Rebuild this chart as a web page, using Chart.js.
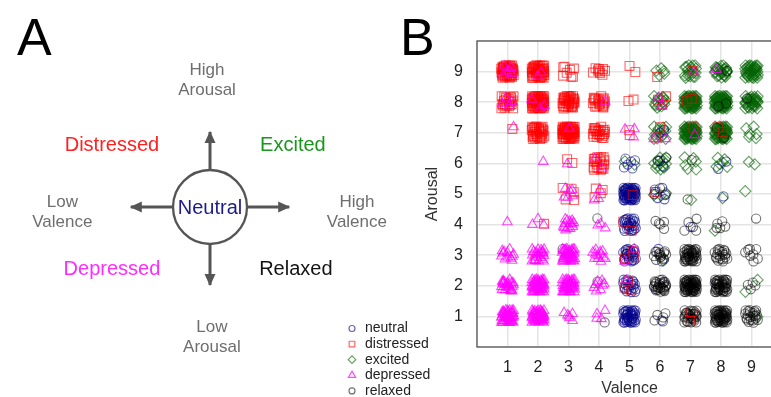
<!DOCTYPE html>
<html><head><meta charset="utf-8">
<script src="https://cdn.jsdelivr.net/npm/chart.js@4.4.1/dist/chart.umd.min.js"></script>
<style>
html,body{margin:0;padding:0;background:#fff;overflow:hidden;width:771px;height:397px;}
#a{position:absolute;left:0;top:0;}
#b{position:absolute;left:330px;top:0;}
</style></head><body>
<canvas id="a" width="771" height="397"></canvas>
<canvas id="b" width="470" height="397"></canvas>
<script>
// ---------- Panel B data: [valence, arousal, count of ratings] ----------
const seriesNames = ["neutral", "distressed", "excited", "depressed", "relaxed"];
const neutralCells = [
 [5,6,6],[6,6,2],[8,6,2],[6,7,2],
 [5,5,64],[6,5,6],[8,5,1],
 [5,4,28],[7,4,1],
 [5,3,28],[6,3,2],
 [5,2,22],[6,2,2],[8,2,1],
 [5,1,45],[6,1,1]
];
const distressedCells = [
 [1,9,50],[2,9,50],[3,9,8],[4,9,9],[5,9,2],[6,9,1],[7,9,1],
 [1,8,22],[2,8,60],[3,8,35],[4,8,20],[5,8,2],[6,8,3],[7,8,2],
 [1,7,1],[2,7,35],[3,7,60],[4,7,22],[5,7,2],[6,7,2],[7,7,1],[8,7,2],
 [3,6,2],[4,6,20],
 [3,5,5],[4,5,4],[5,5,1],[6,5,1],
 [2,4,1],[5,4,2],
 [2,3,1],[5,3,3],
 [5,2,3],
 [7,1,2]
];
const excitedCells = [
 [6,9,5],[7,9,18],[8,9,25],[9,9,40],
 [6,8,14],[7,8,64],[8,8,64],[9,8,35],
 [6,7,14],[7,7,64],[8,7,55],[9,7,6],
 [5,6,2],[6,6,12],[7,6,6],[8,6,6],[9,6,2],
 [5,5,2],[6,5,3],[7,5,1],[8,5,1],[9,5,1],
 [8,4,1],[6,3,1],[9,2,2],[9,1,1]
];
const depressedCells = [
 [1,9,6],[2,9,2],[7,9,1],[8,9,1],
 [1,8,4],[2,8,3],[4,8,1],[6,8,2],
 [1,7,1],[3,7,1],[5,7,3],[6,7,2],[7,7,1],
 [2,6,1],[3,6,1],[4,6,2],
 [3,5,6],[4,5,3],
 [1,4,1],[2,4,3],[3,4,14],[4,4,3],
 [1,3,12],[2,3,22],[3,3,40],[4,3,12],[5,3,2],
 [1,2,25],[2,2,50],[3,2,40],[4,2,8],[5,2,1],
 [1,1,45],[2,1,50],[3,1,6],[4,1,4]
];
const relaxedCells = [
 [8,9,1],
 [3,8,1],[8,8,2],[9,8,1],
 [8,7,2],
 [6,6,2],[7,6,1],
 [6,5,3],[7,5,1],
 [4,4,1],[6,4,5],[7,4,5],[8,4,5],[9,4,1],
 [3,3,1],[5,3,1],[6,3,14],[7,3,45],[8,3,20],[9,3,8],
 [3,2,1],[4,2,1],[6,2,28],[7,2,64],[8,2,45],[9,2,4],
 [4,1,1],[6,1,5],[7,1,30],[8,1,55],[9,1,22]
];
const valenceTicks = [1,2,3,4,5,6,7,8,9];
const arousalTicks = [1,2,3,4,5,6,7,8,9];
// fixed jitter table (rating jitter offsets)
const jitterDX = [0.02,-0.22,0.20,0.24,-0.19,0.00,0.29,-0.28,0.03,0.13,-0.11,0.12,-0.10,0.30,-0.30,0.28,
 -0.29,0.15,-0.14,0.26,-0.25,0.08,-0.07,0.19,-0.18,0.06,-0.04,0.21,-0.22,0.18,-0.16,0.09,
 -0.06,0.31,-0.31,0.10,-0.08,0.23,-0.24,0.04,-0.02,0.16,-0.13,0.27,-0.27,0.14,-0.20,0.07,
 -0.09,0.22,-0.26,0.11,-0.12,0.25,-0.23,0.01,-0.01,0.17,-0.17,0.30,-0.30,0.05,-0.05,0.20];
const jitterDY = [0.01,0.18,-0.21,0.19,-0.23,0.28,-0.02,0.00,-0.29,0.11,-0.10,-0.12,0.12,0.29,-0.30,-0.30,
 0.30,0.26,-0.27,0.09,-0.09,-0.20,0.21,0.02,0.05,0.16,-0.17,-0.10,-0.16,0.20,0.27,0.04,
 -0.03,-0.17,0.14,-0.31,0.31,0.30,-0.31,0.22,-0.23,-0.05,0.07,0.15,-0.20,-0.25,0.24,0.09,
 -0.06,-0.26,0.22,0.30,-0.20,-0.06,0.10,-0.11,0.13,-0.16,0.17,0.04,-0.05,-0.07,0.06,0.13];
const jitterAmount = 0.66;

// ---------- Panel A diagram data ----------
const circleCenter = [0, 0];
const circleRadius = 1.0;
const arrowStarts = [[0,1.0],[0,-1.0],[-1.0,0],[1.0,0]];
const arrowEnds   = [[0,2.03],[0,-2.11],[-2.14,0],[2.14,0]];
const diagramTexts  = [["High","Arousal"],["Low","Arousal"],["Low","Valence"],["High","Valence"],
                       ["Distressed"],["Excited"],["Depressed"],["Relaxed"],["Neutral"]];
const diagramX = [-0.08, 0.05, -3.99, 3.97, -2.65, 2.24, -2.65, 2.32, 0];
const diagramY = [3.42, -3.52, -0.15, -0.15, 1.65, 1.65, -1.68, -1.68, -0.05];

Chart.defaults.font.family = "'Liberation Sans', Arial, sans-serif";

// ---------- Panel A ----------
const textStyles = [
  {c:'#6e6e6e', s:17},{c:'#6e6e6e', s:17},{c:'#6e6e6e', s:17},{c:'#6e6e6e', s:17},
  {c:'#ff2020', s:20},{c:'#1a961a', s:20},{c:'#ff2cff', s:20},{c:'#141414', s:20},{c:'#1c1c8e', s:20}
];
const diagramPlugin = {
  id: 'diagram',
  afterDatasetsDraw(chart) {
    const {ctx, scales:{x, y}} = chart;
    ctx.save();
    ctx.fillStyle = '#555';
    arrowEnds.forEach((e, i) => {
      const s = arrowStarts[i];
      const ex = x.getPixelForValue(e[0]), ey = y.getPixelForValue(e[1]);
      const sx = x.getPixelForValue(s[0]), sy = y.getPixelForValue(s[1]);
      const ang = Math.atan2(ey - sy, ex - sx);
      const L = 11, W = 5.5;
      ctx.beginPath();
      ctx.moveTo(ex + Math.cos(ang) * 1, ey + Math.sin(ang) * 1);
      ctx.lineTo(ex - Math.cos(ang) * L - Math.sin(ang) * W, ey - Math.sin(ang) * L + Math.cos(ang) * W);
      ctx.lineTo(ex - Math.cos(ang) * L + Math.sin(ang) * W, ey - Math.sin(ang) * L - Math.cos(ang) * W);
      ctx.closePath();
      ctx.fill();
    });
    ctx.textAlign = 'center';
    ctx.textBaseline = 'middle';
    diagramTexts.forEach((lines, i) => {
      const st = textStyles[i];
      ctx.font = st.s + "px 'Liberation Sans', Arial, sans-serif";
      ctx.fillStyle = st.c;
      const cx = x.getPixelForValue(diagramX[i]);
      const cy = y.getPixelForValue(diagramY[i]);
      const lh = 19.5;
      lines.forEach((t, k) => ctx.fillText(t, cx, cy + (k - (lines.length - 1) / 2) * lh));
    });
    ctx.textAlign = 'left';
    ctx.textBaseline = 'alphabetic';
    ctx.fillStyle = '#000';
    ctx.font = "52px 'Liberation Sans', Arial, sans-serif";
    ctx.fillText('A', 17, 55);
    ctx.restore();
  }
};

new Chart(document.getElementById('a'), {
  type: 'scatter',
  data: {
    datasets: [
      {
        data: [{x: circleCenter[0], y: circleCenter[1]}],
        pointRadius: (c) => c.chart.scales.x.getPixelForValue(circleRadius) - c.chart.scales.x.getPixelForValue(0),
        pointBorderColor: '#555', pointBorderWidth: 2.3, pointBackgroundColor: '#fff',
        borderColor: '#555', backgroundColor: '#fff'
      },
      ...arrowStarts.map((s, i) => ({
        type: 'line',
        data: [{x: s[0], y: s[1]}, {x: arrowEnds[i][0], y: arrowEnds[i][1]}],
        borderColor: '#555', borderWidth: 3, pointRadius: 0, fill: false, tension: 0
      }))
    ]
  },
  options: {
    responsive: false, animation: false, devicePixelRatio: 1, events: [],
    layout: {padding: 0},
    plugins: {legend: {display: false}, tooltip: {enabled: false}},
    scales: {
      x: {type: 'linear', display: false, min: -5.676, max: 15.162},
      y: {type: 'linear', display: false, min: -5.135, max: 5.595}
    }
  },
  plugins: [diagramPlugin]
});

// ---------- Panel B ----------
const seriesColors = ['rgba(0,0,139,0.6)', 'rgba(255,0,0,0.6)', 'rgba(0,100,0,0.6)', 'rgba(255,0,255,0.7)', 'rgba(0,0,0,0.55)'];
const seriesStyles = ['circle', 'rect', 'rectRot', 'triangle', 'circle'];
const seriesRadius = [4.6, 6.3, 5.6, 5.6, 4.6];
const seriesDrawOrder = [3, 1, 4, 0, 2]; // lower = drawn on top
const seriesCells = [neutralCells, distressedCells, excitedCells, depressedCells, relaxedCells];

function cellsToPoints(cells, si) {
  const pts = [];
  const N = jitterDX.length;
  cells.forEach(([v, a, n]) => {
    const start = (v * 13 + a * 7 + si * 5) % N;
    for (let i = 0; i < n; i++) {
      const k = (start + i) % N;
      pts.push({x: v + jitterDX[k] * jitterAmount, y: a + jitterDY[k] * jitterAmount});
    }
  });
  return pts;
}

const framePlugin = {
  id: 'frameLegend',
  beforeDatasetsDraw(chart) {
    const {ctx, chartArea: a} = chart;
    ctx.save();
    ctx.strokeStyle = '#555';
    ctx.lineWidth = 1.3;
    ctx.strokeRect(a.left, a.top, a.right - a.left, a.bottom - a.top);
    ctx.restore();
  },
  afterDraw(chart) {
    const {ctx} = chart;
    ctx.save();
    const legendRadius = [3, 4, 3.8, 4.2, 3];
    seriesNames.forEach((name, i) => {
      const yy = 328.5 + i * 15.6;
      ctx.strokeStyle = seriesColors[i];
      ctx.fillStyle = 'rgba(0,0,0,0)';
      ctx.lineWidth = 1.2;
      Chart.helpers.drawPoint(ctx, {pointStyle: seriesStyles[i], radius: legendRadius[i], rotation: 0, borderWidth: 1.2}, 22, yy);
      ctx.fillStyle = '#222';
      ctx.font = "14px 'Liberation Sans', Arial, sans-serif";
      ctx.textAlign = 'left';
      ctx.textBaseline = 'middle';
      ctx.fillText(name, 35, yy);
    });
    ctx.fillStyle = '#000';
    ctx.font = "52px 'Liberation Sans', Arial, sans-serif";
    ctx.textBaseline = 'alphabetic';
    ctx.fillText('B', 70, 55);
    ctx.restore();
  }
};

new Chart(document.getElementById('b'), {
  type: 'scatter',
  data: {
    datasets: seriesNames.map((name, i) => ({
      label: name,
      order: seriesDrawOrder[i],
      data: cellsToPoints(seriesCells[i], i),
      pointStyle: seriesStyles[i],
      pointRadius: seriesRadius[i],
      pointBorderWidth: 1.1,
      pointBorderColor: seriesColors[i],
      pointBackgroundColor: 'rgba(0,0,0,0)',
      borderColor: seriesColors[i],
      backgroundColor: 'rgba(0,0,0,0)'
    }))
  },
  options: {
    responsive: false, animation: false, devicePixelRatio: 1, events: [],
    layout: {padding: {left: 0, right: 18, top: 41, bottom: 0}},
    plugins: {legend: {display: false}, tooltip: {enabled: false}},
    scales: {
      x: {
        type: 'linear', min: 0, max: 10,
        afterFit(s) { s.height = 50; },
        afterBuildTicks(s) { s.ticks = [0, ...valenceTicks, 10].map(v => ({value: v})); },
        ticks: {padding: 11, color: '#222', font: {size: 16}, autoSkip: false, maxRotation: 0,
                callback: (v) => valenceTicks.includes(v) ? String(v) : ''},
        grid: {color: '#e4e4e4', lineWidth: 1.5, drawTicks: false},
        border: {display: false},
        title: {display: true, text: 'Valence', color: '#333', font: {size: 16, lineHeight: 1.0}, padding: {top: 0, bottom: 0}}
      },
      y: {
        type: 'linear', min: 0, max: 10,
        afterFit(s) { s.width = 147; },
        afterBuildTicks(s) { s.ticks = [0, ...arousalTicks, 10].map(v => ({value: v})); },
        ticks: {padding: 14, color: '#222', font: {size: 16}, autoSkip: false,
                callback: (v) => arousalTicks.includes(v) ? String(v) : ''},
        grid: {color: '#e4e4e4', lineWidth: 1.5, drawTicks: false},
        border: {display: false},
        title: {display: true, text: 'Arousal', color: '#333', font: {size: 16}, padding: {top: 93, bottom: 0}}
      }
    }
  },
  plugins: [framePlugin]
});
</script>
</body></html>
